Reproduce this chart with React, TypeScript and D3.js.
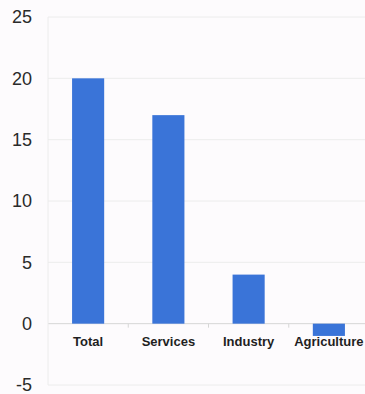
import React from "react";
import * as d3 from "d3";

const categories = ["Total", "Services", "Industry", "Agriculture"];
const values = [20, 17, 4, -1];
const yTicks = [25, 20, 15, 10, 5, 0, -5];

const W = 365;
const H = 394;
const margin = { left: 48, right: -4, top: 17, bottom: 9 };

export default function App() {
  const x = d3
    .scaleBand<string>()
    .domain(categories)
    .range([margin.left, W - margin.right])
    .paddingInner(0.6)
    .paddingOuter(0.3);
  const y = d3.scaleLinear().domain([-5, 25]).range([H - margin.bottom, margin.top]);
  const step = x.step();
  const boundaries = categories.slice(1).map((c) => (x(c) as number) - step * 0.3);

  return (
    <svg
      width={W}
      height={H}
      style={{ position: "absolute", left: 0, top: 0, background: "#fdfbfd" }}
      fontFamily="Liberation Sans, Arial, sans-serif"
    >
      {yTicks.map((t) => (
        <g key={t}>
          <line
            x1={margin.left}
            x2={W}
            y1={y(t)}
            y2={y(t)}
            stroke={t === 0 ? "#d6d6d6" : "#ececec"}
            strokeWidth={1}
          />
          <text
            x={32}
            y={y(t)}
            dy="0.35em"
            textAnchor="end"
            fontSize={18}
            fill="#2a2a2a"
          >
            {t}
          </text>
        </g>
      ))}
      <line x1={margin.left} x2={margin.left} y1={y(25)} y2={y(-5)} stroke="#ececec" />
      {categories.map((c, i) => {
        const v = values[i];
        return (
          <rect
            key={c}
            x={x(c)}
            width={x.bandwidth()}
            y={y(Math.max(0, v))}
            height={Math.abs(y(v) - y(0))}
            fill="#3a74d8"
          />
        );
      })}
      {boundaries.map((b, i) => (
        <line key={i} x1={b} x2={b} y1={y(0)} y2={y(0) + 4} stroke="#d6d6d6" />
      ))}
      {categories.map((c) => (
        <text
          key={c}
          x={(x(c) as number) + x.bandwidth() / 2}
          y={y(0) + 22}
          textAnchor="middle"
          fontSize={13}
          fontWeight="bold"
          fill="#1f1f1f"
        >
          {c}
        </text>
      ))}
    </svg>
  );
}
